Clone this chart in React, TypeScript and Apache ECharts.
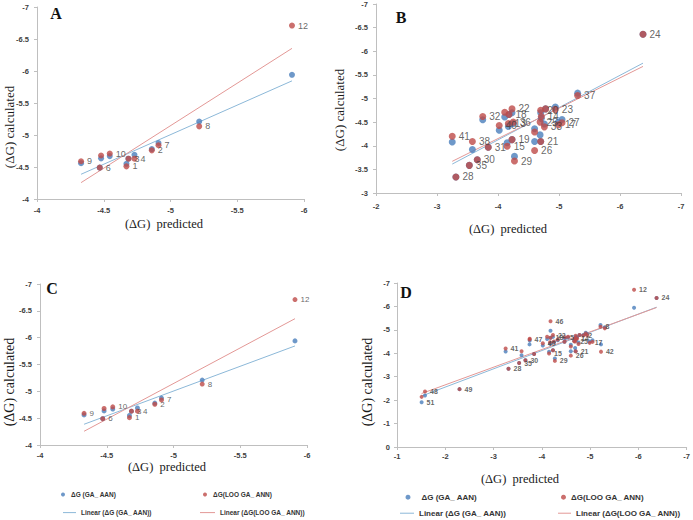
import React, { useEffect, useRef } from "react";
import * as echarts from "echarts";

// ---------- Data ----------
// Panel A / C (compounds 1-12)
const aLabels = ["1", "2", "3", "4", "5", "6", "7", "8", "9", "10", "12"];
const aPredicted = [-4.67, -4.86, -4.685, -4.73, -4.48, -4.47, -4.91, -5.215, -4.33, -4.545, -5.91];
const aCalcGA = [-4.55, -4.78, -4.63, -4.69, -4.635, -4.49, -4.875, -5.21, -4.56, -4.67, -5.94];
const aCalcLOO = [-4.51, -4.76, -4.63, -4.63, -4.68, -4.49, -4.84, -5.135, -4.59, -4.71, -6.71];
const aHiddenLabels = ["5"];

// Panel B (compounds 13-41)
const bLabels = ["41", "28", "35", "38", "30", "32", "31", "40", "16", "15", "13", "18", "22", "36", "19", "29", "26", "34", "25", "21", "20", "14", "39", "33", "23", "17", "27", "37", "24"];
const bPredicted = [-3.25, -3.31, -3.53, -3.58, -3.66, -3.75, -3.84, -4.02, -4.11, -4.15, -4.17, -4.18, -4.23, -4.25, -4.23, -4.27, -4.6, -4.6, -4.69, -4.7, -4.7, -4.71, -4.78, -4.76, -4.94, -4.99, -5.05, -5.305, -6.377];
const bCalcGA = [-4.08, -3.34, -3.585, -3.92, -3.705, -4.55, -3.97, -4.33, -4.61, -4.065, -4.41, -4.66, -4.7, -4.47, -4.13, -3.775, -4.09, -4.36, -4.23, -4.09, -4.7, -4.58, -4.78, -4.46, -4.82, -4.5, -4.557, -5.113, -6.36];
const bCalcLOO = [-4.2, -3.34, -3.585, -4.09, -3.705, -4.62, -3.97, -4.43, -4.71, -3.99, -4.47, -4.66, -4.78, -4.5, -4.13, -3.676, -3.9, -4.29, -4.5, -4.09, -4.75, -4.62, -4.78, -4.4, -4.77, -4.445, -4.487, -5.064, -6.36];
const bHiddenLabels = ["16", "34", "39"];

// Panel D: all compounds (A + B) plus the extra ones
const dExtraLabels = ["42", "46", "47", "48", "49", "51"];
const dExtraPredicted = [-5.225, -4.18, -3.745, -1.58, -2.295, -1.51];
const dExtraCalcGA = [-4.38, -4.96, -4.38, -2.195, -2.47, -1.91];
const dExtraCalcLOO = [-4.07, -5.37, -4.59, -2.37, -2.47, -2.14];
const dShownLOOLabels = ["12", "24", "8", "41", "40", "18", "22", "5", "2", "14", "17", "25", "42", "28", "35", "30", "15", "29", "26", "21", "46", "47", "48", "49"];
const dShownGALabels = ["51"];

// Axis ticks
const abcXTicks = { min: -6, max: -4, interval: 0.5 };
const acYTicks = { min: -7, max: -4, interval: 0.5 };
const bXTicks = { min: -7, max: -2, interval: 1 };
const bYTicks = { min: -7, max: -3, interval: 0.5 };
const dXTicks = { min: -7, max: -1, interval: 1 };
const dYTicks = { min: -7, max: 0, interval: 1 };

const NAME_GA = "ΔG (GA_ AAN)";
const NAME_LOO = "ΔG(LOO GA_ ANN)";
const NAME_LIN_GA = "Linear (ΔG (GA_ AAN))";
const NAME_LIN_LOO = "Linear (ΔG(LOO GA_ ANN))";

const BLUE = "#4a7ebb";
const RED = "#be4b48";
const BLUE_LINE = "#8cb8d8";
const RED_LINE = "#e39896";

function fit(xs: number[], ys: number[]) {
  const n = xs.length;
  const mx = xs.reduce((s, v) => s + v, 0) / n;
  const my = ys.reduce((s, v) => s + v, 0) / n;
  let sxy = 0;
  let sxx = 0;
  for (let i = 0; i < n; i++) {
    sxy += (xs[i] - mx) * (ys[i] - my);
    sxx += (xs[i] - mx) * (xs[i] - mx);
  }
  const b = sxy / sxx;
  const a = my - b * mx;
  const x0 = Math.min(...xs);
  const x1 = Math.max(...xs);
  return [
    [x0, a + b * x0],
    [x1, a + b * x1],
  ];
}

function points(labels: string[], xs: number[], ys: number[], shown: (l: string) => boolean) {
  return labels.map((l, i) => ({
    name: l,
    value: [xs[i], ys[i]],
    label: { show: shown(l) },
  }));
}

function panelSeries(
  idx: number,
  labels: string[],
  xs: number[],
  ga: number[],
  loo: number[],
  size: number,
  labelFont: number,
  labelBold: boolean,
  showGA: (l: string) => boolean,
  showLOO: (l: string) => boolean
) {
  const labelCfg = {
    position: "right",
    distance: 3,
    formatter: "{b}",
    fontSize: labelFont,
    fontWeight: labelBold ? "bold" : "normal",
    fontFamily: "Liberation Sans",
    color: "#404040",
  };
  return [
    {
      name: NAME_LIN_GA,
      type: "line",
      xAxisIndex: idx,
      yAxisIndex: idx,
      data: fit(xs, ga),
      symbol: "none",
      silent: true,
      z: 1,
      lineStyle: { color: BLUE_LINE, width: 1 },
      itemStyle: { color: BLUE_LINE },
    },
    {
      name: NAME_LIN_LOO,
      type: "line",
      xAxisIndex: idx,
      yAxisIndex: idx,
      data: fit(xs, loo),
      symbol: "none",
      silent: true,
      z: 1,
      lineStyle: { color: RED_LINE, width: 1 },
      itemStyle: { color: RED_LINE },
    },
    {
      name: NAME_GA,
      type: "scatter",
      xAxisIndex: idx,
      yAxisIndex: idx,
      symbolSize: size,
      itemStyle: { color: BLUE },
      label: labelCfg,
      data: points(labels, xs, ga, showGA),
      z: 2,
    },
    {
      name: NAME_LOO,
      type: "scatter",
      xAxisIndex: idx,
      yAxisIndex: idx,
      symbolSize: size,
      itemStyle: { color: RED },
      label: labelCfg,
      data: points(labels, xs, loo, showLOO),
      z: 3,
    },
  ];
}

function axis(idx: number, ticks: { min: number; max: number; interval: number }, margin: number) {
  return {
    gridIndex: idx,
    type: "value",
    inverse: true,
    min: ticks.min,
    max: ticks.max,
    interval: ticks.interval,
    axisLine: { show: true, onZero: false, lineStyle: { color: "#bfbfbf", width: 1 } },
    axisTick: { show: true, length: 3, lineStyle: { color: "#bfbfbf" } },
    axisLabel: {
      fontSize: 7.5,
      fontWeight: "bold",
      fontFamily: "Liberation Sans",
      color: "#404040",
      margin,
    },
    splitLine: { show: false },
  };
}

function nameText(text: string, x: number, y: number, size: number, vertical: boolean) {
  return {
    type: "text",
    x,
    y,
    rotation: vertical ? Math.PI / 2 : 0,
    style: {
      text,
      font: `${size}px "Liberation Serif"`,
      fill: "#1a1a1a",
      textAlign: "center",
      textVerticalAlign: "middle",
    },
  };
}

function panelLetter(text: string, x: number, y: number) {
  return {
    type: "text",
    x,
    y,
    style: {
      text,
      font: 'bold 16px "Liberation Serif"',
      fill: "#111",
      textAlign: "center",
      textVerticalAlign: "middle",
    },
  };
}

function legendItem(name: string, icon: string, left: number, cy: number, w: number, h: number, fs: number, padLeft: number) {
  return {
    data: [{ name, icon }],
    left,
    top: cy - fs * 0.6,
    padding: 0,
    itemWidth: w,
    itemHeight: h,
    selectedMode: false,
    textStyle: {
      fontSize: fs,
      fontWeight: "bold",
      fontFamily: "Liberation Sans",
      color: "#333",
      padding: [0, 0, 0, padLeft],
    },
  };
}

export default function App() {
  const ref = useRef<HTMLDivElement>(null);

  useEffect(() => {
    if (!ref.current) return;
    const chart = echarts.init(ref.current, undefined, { renderer: "svg" });

    const dLabels = [...aLabels, ...bLabels, ...dExtraLabels];
    const dPred = [...aPredicted, ...bPredicted, ...dExtraPredicted];
    const dGA = [...aCalcGA, ...bCalcGA, ...dExtraCalcGA];
    const dLOO = [...aCalcLOO, ...bCalcLOO, ...dExtraCalcLOO];

    const showA = (l: string) => !aHiddenLabels.includes(l);
    const showB = (l: string) => !bHiddenLabels.includes(l);

    chart.setOption({
      animation: false,
      backgroundColor: "#ffffff",
      grid: [
        { left: 37, top: 7, width: 267, height: 192 },
        { left: 376, top: 3, width: 305, height: 190 },
        { left: 40, top: 284, width: 267, height: 161 },
        { left: 397, top: 283, width: 293, height: 164 },
      ],
      xAxis: [axis(0, abcXTicks, 7), axis(1, bXTicks, 9), axis(2, abcXTicks, 6), axis(3, dXTicks, 5)],
      yAxis: [axis(0, acYTicks, 8), axis(1, bYTicks, 8), axis(2, acYTicks, 8), axis(3, dYTicks, 7)],
      legend: [
        legendItem(NAME_GA, "circle", 61, 495, 4, 4, 6.5, 1),
        legendItem(NAME_LOO, "circle", 203, 495, 4, 4, 6.5, 1),
        legendItem(NAME_LIN_GA, "rect", 63, 513, 13, 1, 6.5, 0),
        legendItem(NAME_LIN_LOO, "rect", 200, 513, 15, 1, 6.5, 0),
        legendItem(NAME_GA, "circle", 405.5, 498, 5, 5, 8, 6),
        legendItem(NAME_LOO, "circle", 561, 498, 5, 5, 8, 0),
        legendItem(NAME_LIN_GA, "rect", 400, 514, 14, 1, 8, 0),
        legendItem(NAME_LIN_LOO, "rect", 558, 514, 13, 1, 8, 0),
      ],
      graphic: [
        panelLetter("A", 56, 13),
        panelLetter("B", 401, 17),
        panelLetter("C", 52, 288),
        panelLetter("D", 406, 292),
        nameText("(ΔG) calculated", 9, 127, 13, true),
        nameText("(ΔG)  predicted", 164, 224, 12.5, false),
        nameText("(ΔG) calculated", 339, 110, 13, true),
        nameText("(ΔG)  predicted", 508, 229, 12.5, false),
        nameText("(ΔG) calculated", 9, 382, 14, true),
        nameText("(ΔG)  predicted", 167, 467, 12.5, false),
        nameText("(ΔG) calculated", 367, 382, 14, true),
        nameText("(ΔG)  predicted", 520, 479, 12.5, false),
      ],
      series: [
        ...panelSeries(0, aLabels, aPredicted, aCalcGA, aCalcLOO, 6, 9, false, () => false, showA),
        ...panelSeries(1, bLabels, bPredicted, bCalcGA, bCalcLOO, 7, 10, false, () => false, showB),
        ...panelSeries(2, aLabels, aPredicted, aCalcGA, aCalcLOO, 5, 8, false, () => false, showA),
        ...panelSeries(
          3,
          dLabels,
          dPred,
          dGA,
          dLOO,
          4,
          7,
          true,
          (l: string) => dShownGALabels.includes(l),
          (l: string) => dShownLOOLabels.includes(l)
        ),
      ],
    });

    return () => {
      chart.dispose();
    };
  }, []);

  return (
    <div
      ref={ref}
      style={{ position: "fixed", left: 0, top: 0, width: 693, height: 520, background: "#fff" }}
    />
  );
}
